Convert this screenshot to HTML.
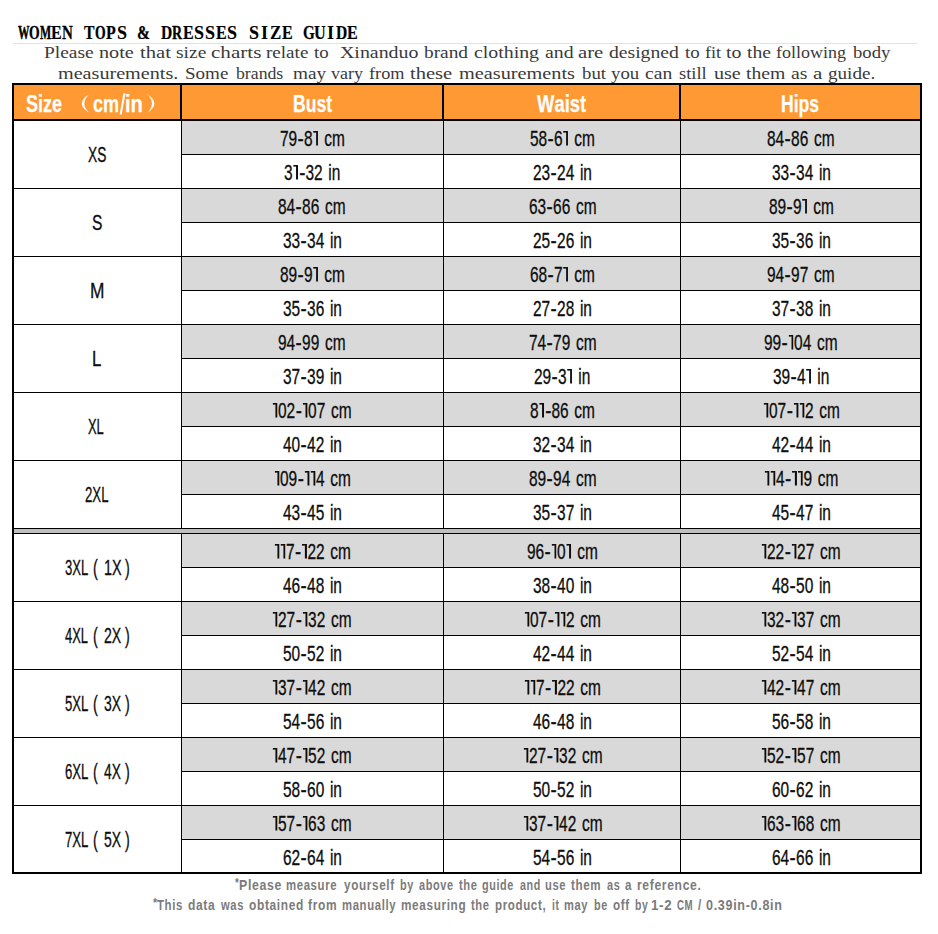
<!DOCTYPE html>
<html><head><meta charset="utf-8"><title>Size Guide</title>
<style>
html,body{margin:0;padding:0;background:#fff;}
body{width:938px;height:934px;position:relative;overflow:hidden;font-family:"Liberation Sans",sans-serif;font-kerning:none;}
.a{position:absolute;}
.k{position:absolute;background:#000;}
.g{position:absolute;background:#d9d9d9;}
.c{position:absolute;white-space:nowrap;color:#0d0d0d;-webkit-text-stroke:.3px #0d0d0d;font-size:21.6px;line-height:28px;transform-origin:0 50%;}
.c i{display:inline-block;width:7.12px;height:15px;margin:0 .63px;background:#0d0d0d;clip-path:polygon(25.5% 0,100% 0,100% 100%,58.8% 100%,58.8% 12.7%,5.9% 15.3%,0 5.3%);}
.c u{text-decoration:none;display:inline-block;transform:scaleX(1.2);margin:0 1px 0 1.4px;}
.h{position:absolute;white-space:nowrap;color:#fff;-webkit-text-stroke:.25px #fff;font-weight:bold;font-size:24.3px;line-height:32px;transform-origin:0 50%;}
.t{position:absolute;left:17.5px;top:21px;height:24px;font-family:"Liberation Serif",serif;font-weight:bold;font-size:19.5px;line-height:24px;color:#000;white-space:nowrap;-webkit-text-stroke:.1px #000;}
.t b{position:absolute;top:0;display:block;transform-origin:0 50%;}
.p{position:absolute;font-family:"Liberation Serif",serif;font-size:16px;line-height:20px;color:#3a3a3a;white-space:nowrap;transform-origin:0 50%;}
.f{position:absolute;font-weight:bold;font-size:14.4px;line-height:18px;color:#7b7b7b;white-space:nowrap;transform-origin:0 50%;}
</style></head><body>
<div class="t"><b style="left:0.12px;transform:scaleX(0.587);-webkit-text-stroke-width:0.50px">W</b><b style="left:11.49px;transform:scaleX(0.701);-webkit-text-stroke-width:0.36px">O</b><b style="left:22.27px;transform:scaleX(0.605);-webkit-text-stroke-width:0.47px">M</b><b style="left:33.67px;transform:scaleX(0.822);-webkit-text-stroke-width:0.21px">E</b><b style="left:44.23px;transform:scaleX(0.773);-webkit-text-stroke-width:0.27px">N</b><b style="left:66.41px;transform:scaleX(0.806);-webkit-text-stroke-width:0.23px">T</b><b style="left:77.31px;transform:scaleX(0.701);-webkit-text-stroke-width:0.36px">O</b><b style="left:88.82px;transform:scaleX(0.816);-webkit-text-stroke-width:0.22px">P</b><b style="left:99.46px;transform:scaleX(0.924);-webkit-text-stroke-width:0.09px">S</b><b style="left:119.96px;transform:scaleX(0.798);-webkit-text-stroke-width:0.24px">&amp;</b><b style="left:143.07px;transform:scaleX(0.798);-webkit-text-stroke-width:0.24px">D</b><b style="left:154.18px;transform:scaleX(0.718);-webkit-text-stroke-width:0.34px">R</b><b style="left:165.31px;transform:scaleX(0.822);-webkit-text-stroke-width:0.21px">E</b><b style="left:176.25px;transform:scaleX(0.924);-webkit-text-stroke-width:0.09px">S</b><b style="left:187.22px;transform:scaleX(0.924);-webkit-text-stroke-width:0.09px">S</b><b style="left:198.22px;transform:scaleX(0.822);-webkit-text-stroke-width:0.21px">E</b><b style="left:209.16px;transform:scaleX(0.924);-webkit-text-stroke-width:0.09px">S</b><b style="left:231.10px;transform:scaleX(0.924);-webkit-text-stroke-width:0.09px">S</b><b style="left:243.67px;transform:scaleX(0.924);-webkit-text-stroke-width:0.09px">I</b><b style="left:252.54px;transform:scaleX(0.866);-webkit-text-stroke-width:0.16px">Z</b><b style="left:264.04px;transform:scaleX(0.822);-webkit-text-stroke-width:0.21px">E</b><b style="left:285.02px;transform:scaleX(0.775);-webkit-text-stroke-width:0.27px">G</b><b style="left:296.17px;transform:scaleX(0.831);-webkit-text-stroke-width:0.20px">U</b><b style="left:309.49px;transform:scaleX(0.924);-webkit-text-stroke-width:0.09px">I</b><b style="left:318.59px;transform:scaleX(0.798);-webkit-text-stroke-width:0.24px">D</b><b style="left:329.86px;transform:scaleX(0.822);-webkit-text-stroke-width:0.21px">E</b></div>
<div class="a" style="left:13px;top:43px;width:904px;height:1px;background:#e2e2e2"></div>
<div class="p" style="left:44.44px;top:42.50px;transform:scaleX(1.2143);">Please</div>
<div class="p" style="left:99.14px;top:42.50px;transform:scaleX(1.2620);">note</div>
<div class="p" style="left:139.50px;top:42.50px;transform:scaleX(1.2888);">that</div>
<div class="p" style="left:175.80px;top:42.50px;transform:scaleX(1.2170);">size</div>
<div class="p" style="left:210.90px;top:42.50px;transform:scaleX(1.3184);">charts</div>
<div class="p" style="left:265.92px;top:42.50px;transform:scaleX(1.1920);">relate</div>
<div class="p" style="left:313.72px;top:42.50px;transform:scaleX(1.1815);">to</div>
<div class="p" style="left:339.76px;top:42.50px;transform:scaleX(1.2423);">Xinanduo</div>
<div class="p" style="left:424.20px;top:42.50px;transform:scaleX(1.2088);">brand</div>
<div class="p" style="left:474.24px;top:42.50px;transform:scaleX(1.2402);">clothing</div>
<div class="p" style="left:544.51px;top:42.50px;transform:scaleX(1.2352);">and</div>
<div class="p" style="left:578.27px;top:42.50px;transform:scaleX(1.2925);">are</div>
<div class="p" style="left:608.89px;top:42.50px;transform:scaleX(1.2263);">designed</div>
<div class="p" style="left:684.82px;top:42.50px;transform:scaleX(1.1815);">to</div>
<div class="p" style="left:704.54px;top:42.50px;transform:scaleX(1.1370);">fit</div>
<div class="p" style="left:726.21px;top:42.50px;transform:scaleX(1.2415);">to</div>
<div class="p" style="left:747.01px;top:42.50px;transform:scaleX(1.2264);">the</div>
<div class="p" style="left:776.45px;top:42.50px;transform:scaleX(1.1234);">following</div>
<div class="p" style="left:853.00px;top:42.50px;transform:scaleX(1.1679);">body</div>
<div class="p" style="left:58.38px;top:63.50px;transform:scaleX(1.2589);">measurements.</div>
<div class="p" style="left:185.33px;top:63.50px;transform:scaleX(1.1890);">Some</div>
<div class="p" style="left:236.00px;top:63.50px;transform:scaleX(1.1075);">brands</div>
<div class="p" style="left:293.40px;top:63.50px;transform:scaleX(1.2008);">may</div>
<div class="p" style="left:331.40px;top:63.50px;transform:scaleX(1.1245);">vary</div>
<div class="p" style="left:368.94px;top:63.50px;transform:scaleX(1.1397);">from</div>
<div class="p" style="left:410.20px;top:63.50px;transform:scaleX(1.2840);">these</div>
<div class="p" style="left:458.77px;top:63.50px;transform:scaleX(1.2670);">measurements</div>
<div class="p" style="left:581.50px;top:63.50px;transform:scaleX(1.1744);">but</div>
<div class="p" style="left:611.37px;top:63.50px;transform:scaleX(1.1729);">you</div>
<div class="p" style="left:645.25px;top:63.50px;transform:scaleX(1.2271);">can</div>
<div class="p" style="left:678.54px;top:63.50px;transform:scaleX(1.1550);">still</div>
<div class="p" style="left:713.64px;top:63.50px;transform:scaleX(1.2547);">use</div>
<div class="p" style="left:746.31px;top:63.50px;transform:scaleX(1.2284);">them</div>
<div class="p" style="left:791.41px;top:63.50px;transform:scaleX(1.2308);">as</div>
<div class="p" style="left:813.36px;top:63.50px;transform:scaleX(1.3132);">a</div>
<div class="p" style="left:828.38px;top:63.50px;transform:scaleX(1.1930);">guide.</div>
<div class="a" style="left:14px;top:85px;width:906px;height:34px;background:#ff9933"></div>
<div class="g" style="left:182px;top:121px;width:738px;height:33px"></div>
<div class="g" style="left:182px;top:189px;width:738px;height:33px"></div>
<div class="g" style="left:182px;top:257px;width:738px;height:33px"></div>
<div class="g" style="left:182px;top:325px;width:738px;height:33px"></div>
<div class="g" style="left:182px;top:393px;width:738px;height:33px"></div>
<div class="g" style="left:182px;top:461px;width:738px;height:33px"></div>
<div class="g" style="left:182px;top:534px;width:738px;height:33px"></div>
<div class="g" style="left:182px;top:602px;width:738px;height:33px"></div>
<div class="g" style="left:182px;top:670px;width:738px;height:33px"></div>
<div class="g" style="left:182px;top:738px;width:738px;height:33px"></div>
<div class="g" style="left:182px;top:806px;width:738px;height:33px"></div>
<div class="c" style="left:279.53px;top:124.50px;transform:scaleX(0.716);word-spacing:1.9px">79<u>-</u>8<i></i> cm</div>
<div class="c" style="left:529.93px;top:124.50px;transform:scaleX(0.716);word-spacing:1.9px">58<u>-</u>6<i></i> cm</div>
<div class="c" style="left:767.23px;top:124.50px;transform:scaleX(0.716);word-spacing:1.9px">84<u>-</u>86 cm</div>
<div class="c" style="left:283.82px;top:158.50px;transform:scaleX(0.716);word-spacing:1.9px">3<i></i><u>-</u>32 in</div>
<div class="c" style="left:532.92px;top:158.50px;transform:scaleX(0.716);word-spacing:1.9px">23<u>-</u>24 in</div>
<div class="c" style="left:771.52px;top:158.50px;transform:scaleX(0.716);word-spacing:1.9px">33<u>-</u>34 in</div>
<div class="c" style="left:278.23px;top:192.50px;transform:scaleX(0.716);word-spacing:1.9px">84<u>-</u>86 cm</div>
<div class="c" style="left:528.63px;top:192.50px;transform:scaleX(0.716);word-spacing:1.9px">63<u>-</u>66 cm</div>
<div class="c" style="left:768.53px;top:192.50px;transform:scaleX(0.716);word-spacing:1.9px">89<u>-</u>9<i></i> cm</div>
<div class="c" style="left:282.52px;top:226.50px;transform:scaleX(0.716);word-spacing:1.9px">33<u>-</u>34 in</div>
<div class="c" style="left:532.92px;top:226.50px;transform:scaleX(0.716);word-spacing:1.9px">25<u>-</u>26 in</div>
<div class="c" style="left:771.52px;top:226.50px;transform:scaleX(0.716);word-spacing:1.9px">35<u>-</u>36 in</div>
<div class="c" style="left:279.53px;top:260.50px;transform:scaleX(0.716);word-spacing:1.9px">89<u>-</u>9<i></i> cm</div>
<div class="c" style="left:529.93px;top:260.50px;transform:scaleX(0.716);word-spacing:1.9px">68<u>-</u>7<i></i> cm</div>
<div class="c" style="left:767.23px;top:260.50px;transform:scaleX(0.716);word-spacing:1.9px">94<u>-</u>97 cm</div>
<div class="c" style="left:282.52px;top:294.50px;transform:scaleX(0.716);word-spacing:1.9px">35<u>-</u>36 in</div>
<div class="c" style="left:532.92px;top:294.50px;transform:scaleX(0.716);word-spacing:1.9px">27<u>-</u>28 in</div>
<div class="c" style="left:771.52px;top:294.50px;transform:scaleX(0.716);word-spacing:1.9px">37<u>-</u>38 in</div>
<div class="c" style="left:278.23px;top:328.50px;transform:scaleX(0.716);word-spacing:1.9px">94<u>-</u>99 cm</div>
<div class="c" style="left:528.63px;top:328.50px;transform:scaleX(0.716);word-spacing:1.9px">74<u>-</u>79 cm</div>
<div class="c" style="left:764.23px;top:328.50px;transform:scaleX(0.716);word-spacing:1.9px">99<u>-</u><i></i>04 cm</div>
<div class="c" style="left:282.52px;top:362.50px;transform:scaleX(0.716);word-spacing:1.9px">37<u>-</u>39 in</div>
<div class="c" style="left:534.22px;top:362.50px;transform:scaleX(0.716);word-spacing:1.9px">29<u>-</u>3<i></i> in</div>
<div class="c" style="left:772.82px;top:362.50px;transform:scaleX(0.716);word-spacing:1.9px">39<u>-</u>4<i></i> in</div>
<div class="c" style="left:272.23px;top:396.50px;transform:scaleX(0.716);word-spacing:1.9px"><i></i>02<u>-</u><i></i>07 cm</div>
<div class="c" style="left:529.93px;top:396.50px;transform:scaleX(0.716);word-spacing:1.9px">8<i></i><u>-</u>86 cm</div>
<div class="c" style="left:762.53px;top:396.50px;transform:scaleX(0.716);word-spacing:1.9px"><i></i>07<u>-</u><i></i><i></i>2 cm</div>
<div class="c" style="left:282.52px;top:430.50px;transform:scaleX(0.716);word-spacing:1.9px">40<u>-</u>42 in</div>
<div class="c" style="left:532.92px;top:430.50px;transform:scaleX(0.716);word-spacing:1.9px">32<u>-</u>34 in</div>
<div class="c" style="left:771.52px;top:430.50px;transform:scaleX(0.716);word-spacing:1.9px">42<u>-</u>44 in</div>
<div class="c" style="left:273.53px;top:464.50px;transform:scaleX(0.716);word-spacing:1.9px"><i></i>09<u>-</u><i></i><i></i>4 cm</div>
<div class="c" style="left:528.63px;top:464.50px;transform:scaleX(0.716);word-spacing:1.9px">89<u>-</u>94 cm</div>
<div class="c" style="left:763.83px;top:464.50px;transform:scaleX(0.716);word-spacing:1.9px"><i></i><i></i>4<u>-</u><i></i><i></i>9 cm</div>
<div class="c" style="left:282.52px;top:498.50px;transform:scaleX(0.716);word-spacing:1.9px">43<u>-</u>45 in</div>
<div class="c" style="left:532.92px;top:498.50px;transform:scaleX(0.716);word-spacing:1.9px">35<u>-</u>37 in</div>
<div class="c" style="left:771.52px;top:498.50px;transform:scaleX(0.716);word-spacing:1.9px">45<u>-</u>47 in</div>
<div class="c" style="left:273.53px;top:537.50px;transform:scaleX(0.716);word-spacing:1.9px"><i></i><i></i>7<u>-</u><i></i>22 cm</div>
<div class="c" style="left:526.93px;top:537.50px;transform:scaleX(0.716);word-spacing:1.9px">96<u>-</u><i></i>0<i></i> cm</div>
<div class="c" style="left:761.23px;top:537.50px;transform:scaleX(0.716);word-spacing:1.9px"><i></i>22<u>-</u><i></i>27 cm</div>
<div class="c" style="left:282.52px;top:571.50px;transform:scaleX(0.716);word-spacing:1.9px">46<u>-</u>48 in</div>
<div class="c" style="left:532.92px;top:571.50px;transform:scaleX(0.716);word-spacing:1.9px">38<u>-</u>40 in</div>
<div class="c" style="left:771.52px;top:571.50px;transform:scaleX(0.716);word-spacing:1.9px">48<u>-</u>50 in</div>
<div class="c" style="left:272.23px;top:605.50px;transform:scaleX(0.716);word-spacing:1.9px"><i></i>27<u>-</u><i></i>32 cm</div>
<div class="c" style="left:523.93px;top:605.50px;transform:scaleX(0.716);word-spacing:1.9px"><i></i>07<u>-</u><i></i><i></i>2 cm</div>
<div class="c" style="left:761.23px;top:605.50px;transform:scaleX(0.716);word-spacing:1.9px"><i></i>32<u>-</u><i></i>37 cm</div>
<div class="c" style="left:282.52px;top:639.50px;transform:scaleX(0.716);word-spacing:1.9px">50<u>-</u>52 in</div>
<div class="c" style="left:532.92px;top:639.50px;transform:scaleX(0.716);word-spacing:1.9px">42<u>-</u>44 in</div>
<div class="c" style="left:771.52px;top:639.50px;transform:scaleX(0.716);word-spacing:1.9px">52<u>-</u>54 in</div>
<div class="c" style="left:272.23px;top:673.50px;transform:scaleX(0.716);word-spacing:1.9px"><i></i>37<u>-</u><i></i>42 cm</div>
<div class="c" style="left:523.93px;top:673.50px;transform:scaleX(0.716);word-spacing:1.9px"><i></i><i></i>7<u>-</u><i></i>22 cm</div>
<div class="c" style="left:761.23px;top:673.50px;transform:scaleX(0.716);word-spacing:1.9px"><i></i>42<u>-</u><i></i>47 cm</div>
<div class="c" style="left:282.52px;top:707.50px;transform:scaleX(0.716);word-spacing:1.9px">54<u>-</u>56 in</div>
<div class="c" style="left:532.92px;top:707.50px;transform:scaleX(0.716);word-spacing:1.9px">46<u>-</u>48 in</div>
<div class="c" style="left:771.52px;top:707.50px;transform:scaleX(0.716);word-spacing:1.9px">56<u>-</u>58 in</div>
<div class="c" style="left:272.23px;top:741.50px;transform:scaleX(0.716);word-spacing:1.9px"><i></i>47<u>-</u><i></i>52 cm</div>
<div class="c" style="left:522.63px;top:741.50px;transform:scaleX(0.716);word-spacing:1.9px"><i></i>27<u>-</u><i></i>32 cm</div>
<div class="c" style="left:761.23px;top:741.50px;transform:scaleX(0.716);word-spacing:1.9px"><i></i>52<u>-</u><i></i>57 cm</div>
<div class="c" style="left:282.52px;top:775.50px;transform:scaleX(0.716);word-spacing:1.9px">58<u>-</u>60 in</div>
<div class="c" style="left:532.92px;top:775.50px;transform:scaleX(0.716);word-spacing:1.9px">50<u>-</u>52 in</div>
<div class="c" style="left:771.52px;top:775.50px;transform:scaleX(0.716);word-spacing:1.9px">60<u>-</u>62 in</div>
<div class="c" style="left:272.23px;top:809.50px;transform:scaleX(0.716);word-spacing:1.9px"><i></i>57<u>-</u><i></i>63 cm</div>
<div class="c" style="left:522.63px;top:809.50px;transform:scaleX(0.716);word-spacing:1.9px"><i></i>37<u>-</u><i></i>42 cm</div>
<div class="c" style="left:761.23px;top:809.50px;transform:scaleX(0.716);word-spacing:1.9px"><i></i>63<u>-</u><i></i>68 cm</div>
<div class="c" style="left:282.52px;top:843.50px;transform:scaleX(0.716);word-spacing:1.9px">62<u>-</u>64 in</div>
<div class="c" style="left:532.92px;top:843.50px;transform:scaleX(0.716);word-spacing:1.9px">54<u>-</u>56 in</div>
<div class="c" style="left:771.52px;top:843.50px;transform:scaleX(0.716);word-spacing:1.9px">64<u>-</u>66 in</div>
<div class="c" style="left:88.49px;top:140.50px;transform:scaleX(0.6365);">XS</div>
<div class="c" style="left:92.39px;top:208.50px;transform:scaleX(0.7238);">S</div>
<div class="c" style="left:89.68px;top:276.50px;transform:scaleX(0.8028);">M</div>
<div class="c" style="left:92.02px;top:344.50px;transform:scaleX(0.7770);">L</div>
<div class="c" style="left:88.31px;top:412.50px;transform:scaleX(0.5988);">XL</div>
<div class="c" style="left:85.04px;top:480.50px;transform:scaleX(0.6115);">2XL</div>
<div class="c" style="left:64.90px;top:553.50px;transform:scaleX(0.6045);">3XL</div>
<div class="c" style="left:93.21px;top:553.50px;transform:scaleX(0.6635);">(</div>
<div class="c" style="left:103.70px;top:553.50px;transform:scaleX(0.6661);">1X</div>
<div class="c" style="left:125.12px;top:553.50px;transform:scaleX(0.6635);">)</div>
<div class="c" style="left:65.10px;top:621.50px;transform:scaleX(0.5991);">4XL</div>
<div class="c" style="left:93.21px;top:621.50px;transform:scaleX(0.6635);">(</div>
<div class="c" style="left:104.09px;top:621.50px;transform:scaleX(0.6511);">2X</div>
<div class="c" style="left:125.12px;top:621.50px;transform:scaleX(0.6635);">)</div>
<div class="c" style="left:64.88px;top:689.50px;transform:scaleX(0.6051);">5XL</div>
<div class="c" style="left:93.21px;top:689.50px;transform:scaleX(0.6635);">(</div>
<div class="c" style="left:104.27px;top:689.50px;transform:scaleX(0.6443);">3X</div>
<div class="c" style="left:125.12px;top:689.50px;transform:scaleX(0.6635);">)</div>
<div class="c" style="left:64.73px;top:757.50px;transform:scaleX(0.6090);">6XL</div>
<div class="c" style="left:93.21px;top:757.50px;transform:scaleX(0.6635);">(</div>
<div class="c" style="left:104.48px;top:757.50px;transform:scaleX(0.6360);">4X</div>
<div class="c" style="left:125.12px;top:757.50px;transform:scaleX(0.6635);">)</div>
<div class="c" style="left:64.73px;top:825.50px;transform:scaleX(0.6092);">7XL</div>
<div class="c" style="left:93.21px;top:825.50px;transform:scaleX(0.6635);">(</div>
<div class="c" style="left:104.24px;top:825.50px;transform:scaleX(0.6454);">5X</div>
<div class="c" style="left:125.12px;top:825.50px;transform:scaleX(0.6635);">)</div>
<div class="k" style="left:182px;top:154px;width:738px;height:1px"></div>
<div class="k" style="left:14px;top:188px;width:906px;height:1px"></div>
<div class="k" style="left:182px;top:222px;width:738px;height:1px"></div>
<div class="k" style="left:14px;top:256px;width:906px;height:1px"></div>
<div class="k" style="left:182px;top:290px;width:738px;height:1px"></div>
<div class="k" style="left:14px;top:324px;width:906px;height:1px"></div>
<div class="k" style="left:182px;top:358px;width:738px;height:1px"></div>
<div class="k" style="left:14px;top:392px;width:906px;height:1px"></div>
<div class="k" style="left:182px;top:426px;width:738px;height:1px"></div>
<div class="k" style="left:14px;top:460px;width:906px;height:1px"></div>
<div class="k" style="left:182px;top:494px;width:738px;height:1px"></div>
<div class="k" style="left:182px;top:567px;width:738px;height:1px"></div>
<div class="k" style="left:14px;top:601px;width:906px;height:1px"></div>
<div class="k" style="left:182px;top:635px;width:738px;height:1px"></div>
<div class="k" style="left:14px;top:669px;width:906px;height:1px"></div>
<div class="k" style="left:182px;top:703px;width:738px;height:1px"></div>
<div class="k" style="left:14px;top:737px;width:906px;height:1px"></div>
<div class="k" style="left:182px;top:771px;width:738px;height:1px"></div>
<div class="k" style="left:14px;top:805px;width:906px;height:1px"></div>
<div class="k" style="left:182px;top:839px;width:738px;height:1px"></div>
<div class="k" style="left:181px;top:121px;width:1px;height:751px"></div>
<div class="k" style="left:180px;top:85px;width:2px;height:34px"></div>
<div class="k" style="left:443px;top:121px;width:1px;height:751px"></div>
<div class="k" style="left:442px;top:85px;width:2px;height:34px"></div>
<div class="k" style="left:680px;top:121px;width:1px;height:751px"></div>
<div class="k" style="left:679px;top:85px;width:2px;height:34px"></div>
<div class="k" style="left:14px;top:528px;width:906px;height:1px"></div>
<div class="a" style="left:14px;top:529px;width:906px;height:4px;background:#bfbfbf"></div>
<div class="k" style="left:14px;top:533px;width:906px;height:1px"></div>
<div class="k" style="left:12px;top:119px;width:910px;height:2px"></div>
<div class="a" style="left:12px;top:83px;width:906px;height:787px;border:2px solid #000"></div>
<div class="h" style="left:26.08px;top:87.50px;transform:scaleX(0.7432);">Size</div>
<div class="h" style="left:92.79px;top:87.50px;transform:scaleX(0.7439);">cm</div>
<div class="h" style="left:125.39px;top:87.50px;transform:scaleX(0.8319);">in</div>
<div class="h" style="left:292.62px;top:87.50px;transform:scaleX(0.7259);">Bust</div>
<div class="h" style="left:536.78px;top:87.50px;transform:scaleX(0.7583);">Waist</div>
<div class="h" style="left:781.42px;top:87.50px;transform:scaleX(0.7235);">Hips</div>
<svg class="a" style="left:78px;top:90px" width="82" height="28" viewBox="78 90 82 28"><path fill="#fff" d="M89.2,94.2 Q74.4,103.5 89.2,112.8 Q79.4,103.5 89.2,94.2Z"/><path fill="#fff" d="M147.0,94.0 Q161.8,103.5 147.0,113.0 Q156.8,103.5 147.0,94.0Z"/><path fill="#fff" d="M119.6,114.6 L121.7,114.6 L125.5,93.2 L123.4,93.2Z"/></svg>
<div class="f" style="left:238.78px;top:876.00px;transform:scaleX(0.8550);letter-spacing:0.80px;">Please</div>
<div class="f" style="left:286.35px;top:876.00px;transform:scaleX(0.7892);letter-spacing:0.80px;">measure</div>
<div class="f" style="left:343.71px;top:876.00px;transform:scaleX(0.8142);letter-spacing:0.80px;">yourself</div>
<div class="f" style="left:399.98px;top:876.00px;transform:scaleX(0.7540);letter-spacing:0.80px;">by</div>
<div class="f" style="left:419.18px;top:876.00px;transform:scaleX(0.7585);letter-spacing:0.80px;">above</div>
<div class="f" style="left:458.96px;top:876.00px;transform:scaleX(0.7767);letter-spacing:0.80px;">the</div>
<div class="f" style="left:482.46px;top:876.00px;transform:scaleX(0.7528);letter-spacing:0.80px;">guide</div>
<div class="f" style="left:519.68px;top:876.00px;transform:scaleX(0.7472);letter-spacing:0.80px;">and</div>
<div class="f" style="left:544.80px;top:876.00px;transform:scaleX(0.7791);letter-spacing:0.80px;">use</div>
<div class="f" style="left:571.16px;top:876.00px;transform:scaleX(0.8059);letter-spacing:0.80px;">them</div>
<div class="f" style="left:606.58px;top:876.00px;transform:scaleX(0.7593);letter-spacing:0.80px;">as</div>
<div class="f" style="left:624.86px;top:876.00px;transform:scaleX(0.8075);letter-spacing:0.80px;">a</div>
<div class="f" style="left:636.90px;top:876.00px;transform:scaleX(0.8394);letter-spacing:0.80px;">reference.</div>
<div class="f" style="left:156.87px;top:896.00px;transform:scaleX(0.7936);letter-spacing:0.80px;">This</div>
<div class="f" style="left:187.61px;top:896.00px;transform:scaleX(0.8347);letter-spacing:0.80px;">data</div>
<div class="f" style="left:220.73px;top:896.00px;transform:scaleX(0.7782);letter-spacing:0.80px;">was</div>
<div class="f" style="left:248.53px;top:896.00px;transform:scaleX(0.8286);letter-spacing:0.80px;">obtained</div>
<div class="f" style="left:308.20px;top:896.00px;transform:scaleX(0.8298);letter-spacing:0.80px;">from</div>
<div class="f" style="left:341.75px;top:896.00px;transform:scaleX(0.7866);letter-spacing:0.80px;">manually</div>
<div class="f" style="left:401.43px;top:896.00px;transform:scaleX(0.8162);letter-spacing:0.80px;">measuring</div>
<div class="f" style="left:471.46px;top:896.00px;transform:scaleX(0.7767);letter-spacing:0.80px;">the</div>
<div class="f" style="left:495.14px;top:896.00px;transform:scaleX(0.8012);letter-spacing:0.80px;">product,</div>
<div class="f" style="left:551.78px;top:896.00px;transform:scaleX(0.7130);letter-spacing:0.80px;">it</div>
<div class="f" style="left:564.27px;top:896.00px;transform:scaleX(0.7689);letter-spacing:0.80px;">may</div>
<div class="f" style="left:593.59px;top:896.00px;transform:scaleX(0.7486);letter-spacing:0.80px;">be</div>
<div class="f" style="left:612.64px;top:896.00px;transform:scaleX(0.8122);letter-spacing:0.80px;">off</div>
<div class="f" style="left:634.51px;top:896.00px;transform:scaleX(0.7238);letter-spacing:0.80px;">by</div>
<div class="f" style="left:650.66px;top:896.00px;transform:scaleX(0.9222);letter-spacing:0.80px;">1-2</div>
<div class="f" style="left:676.70px;top:896.00px;transform:scaleX(0.6700);letter-spacing:0.80px;">CM</div>
<div class="f" style="left:697.79px;top:896.00px;transform:scaleX(0.8066);letter-spacing:0.80px;">/</div>
<div class="f" style="left:706.10px;top:896.00px;transform:scaleX(0.8709);letter-spacing:0.80px;">0.39in-0.8in</div>
<div class="f" style="left:234.77px;top:874.40px;transform:scaleX(0.7955);font-size:12.4px;">*</div>
<div class="f" style="left:152.57px;top:893.60px;transform:scaleX(0.8583);font-size:12.4px;">*</div>
</body></html>
